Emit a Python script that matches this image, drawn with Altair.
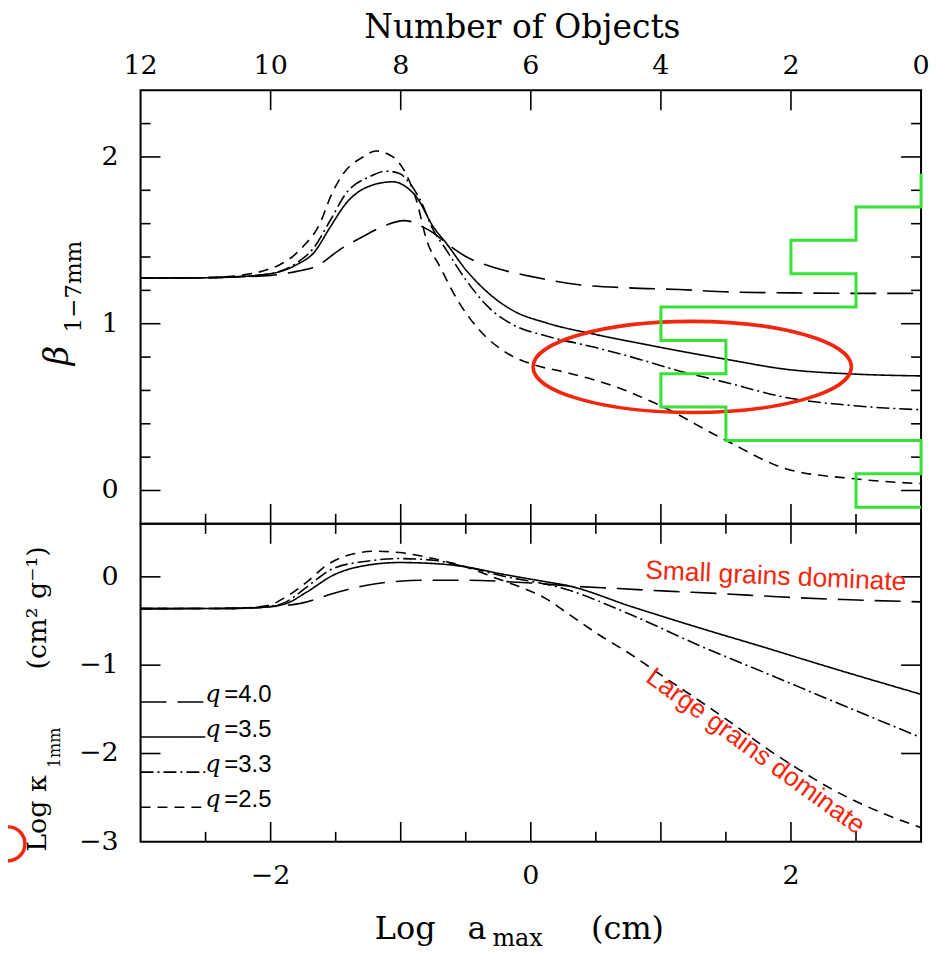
import altair as alt
import pandas as pd

# ---------------- data ----------------
Q_LABELS = ["4.0", "3.5", "3.3", "2.5"]

# top panel: beta_{1-7mm} vs log a_max
BETA_X_Q40 = [-3.0, -2.5, -2.3, -2.0, -1.8, -1.65, -1.47, -1.29, -1.11, -0.98, -0.88, -0.84, -0.75, -0.65, -0.5, -0.27, 0.0, 0.37, 0.75, 1.14, 1.55, 2.0, 2.5, 3.0]
BETA_Y_Q40 = [1.274, 1.276, 1.28, 1.29, 1.314, 1.344, 1.443, 1.523, 1.592, 1.618, 1.603, 1.585, 1.545, 1.483, 1.403, 1.334, 1.284, 1.234, 1.215, 1.205, 1.19, 1.185, 1.182, 1.182]

BETA_X_Q35 = [-3.0, -2.5, -2.3, -2.0, -1.8, -1.67, -1.54, -1.42, -1.24, -1.06, -0.96, -0.88, -0.75, -0.65, -0.5, -0.32, -0.14, 0.12, 0.5, 0.88, 1.14, 1.5, 1.96, 2.49, 3.0]
BETA_Y_Q35 = [1.274, 1.276, 1.28, 1.30, 1.354, 1.424, 1.582, 1.722, 1.825, 1.851, 1.821, 1.761, 1.582, 1.483, 1.324, 1.18, 1.08, 1.005, 0.935, 0.876, 0.837, 0.787, 0.727, 0.698, 0.687]

BETA_X_Q33 = [-3.0, -2.5, -2.3, -2.0, -1.8, -1.67, -1.54, -1.42, -1.24, -1.11, -1.01, -0.93, -0.85, -0.75, -0.65, -0.5, -0.32, -0.14, 0.12, 0.5, 0.88, 1.14, 1.5, 1.96, 2.49, 3.0]
BETA_Y_Q33 = [1.274, 1.276, 1.28, 1.30, 1.364, 1.453, 1.622, 1.782, 1.881, 1.915, 1.901, 1.841, 1.742, 1.563, 1.443, 1.264, 1.095, 0.995, 0.926, 0.857, 0.777, 0.717, 0.648, 0.558, 0.508, 0.484]

BETA_X_Q25 = [-3.0, -2.5, -2.3, -1.93, -1.75, -1.62, -1.54, -1.44, -1.29, -1.19, -1.06, -0.96, -0.88, -0.80, -0.70, -0.55, -0.40, -0.19, 0.01, 0.27, 0.63, 0.98, 1.5, 1.96, 2.49, 3.0]
BETA_Y_Q25 = [1.274, 1.276, 1.284, 1.354, 1.463, 1.603, 1.761, 1.901, 2.0, 2.036, 2.0, 1.90, 1.742, 1.50, 1.344, 1.125, 0.966, 0.827, 0.757, 0.708, 0.628, 0.515, 0.30, 0.131, 0.07, 0.041]

# bottom panel: log kappa_1mm vs log a_max
KAP_X_Q40 = [-3.0, -2.3, -2.03, -1.77, -1.52, -1.26, -1.01, -0.75, -0.5, -0.24, 0.0, 0.33, 0.67, 1.05, 1.45, 1.9, 2.4, 3.0]
KAP_Y_Q40 = [-0.36, -0.357, -0.34, -0.30, -0.189, -0.095, -0.05, -0.038, -0.038, -0.05, -0.07, -0.106, -0.132, -0.162, -0.189, -0.226, -0.257, -0.283]

KAP_X_Q35 = [-3.0, -2.3, -2.03, -1.88, -1.72, -1.52, -1.26, -1.01, -0.75, -0.5, -0.24, 0.12, 0.27, 0.78, 1.29, 1.8, 2.31, 3.0]
KAP_Y_Q35 = [-0.36, -0.357, -0.34, -0.302, -0.17, 0.018, 0.131, 0.162, 0.151, 0.113, 0.037, -0.057, -0.095, -0.34, -0.575, -0.80, -1.03, -1.33]

KAP_X_Q33 = [-3.0, -2.3, -2.03, -1.88, -1.72, -1.52, -1.26, -1.01, -0.75, -0.5, -0.24, 0.27, 0.78, 1.29, 1.8, 2.31, 3.0]
KAP_Y_Q33 = [-0.36, -0.357, -0.34, -0.283, -0.113, 0.094, 0.177, 0.207, 0.188, 0.113, 0.018, -0.14, -0.435, -0.774, -1.085, -1.40, -1.82]

KAP_X_Q25 = [-3.0, -2.3, -2.03, -1.88, -1.72, -1.57, -1.42, -1.19, -1.01, -0.75, -0.5, -0.24, -0.09, 0.12, 0.27, 0.53, 0.78, 1.04, 1.29, 1.55, 1.8, 2.06, 2.31, 2.57, 3.0]
KAP_Y_Q25 = [-0.36, -0.357, -0.328, -0.226, -0.057, 0.131, 0.238, 0.29, 0.275, 0.207, 0.113, -0.03, -0.11, -0.25, -0.40, -0.661, -0.888, -1.151, -1.397, -1.661, -1.93, -2.18, -2.40, -2.59, -2.84]

# histogram of observed beta (number of objects per 0.2-wide bin)
HIST_BIN_LO = [1.7, 1.5, 1.3, 1.1, 0.9, 0.7, 0.5, 0.3, 0.1, -0.1]
HIST_BIN_WIDTH = 0.2
HIST_COUNTS = [0, 1, 2, 1, 4, 3, 4, 3, 0, 1]

# axis tick values / labels
X_MAJOR = [-2, -1, 0, 1, 2]
X_MINOR = [-2.5, -1.5, -0.5, 0.5, 1.5, 2.5]
X_LABELS = [-2, 0, 2]
N_TICKS = [2, 4, 6, 8, 10]
N_LABELS = [0, 2, 4, 6, 8, 10, 12]
BETA_MAJOR = [0, 1, 2]
BETA_MINOR = [0.2, 0.4, 0.6, 0.8, 1.2, 1.4, 1.6, 1.8, 2.2]
KAP_MAJOR = [0, -1, -2]
KAP_LABELS = [0, -1, -2, -3]

# annotations
ELLIPSE_CENTER = {"x": [1.241], "y": [0.741]}
ANNOT_TEXT = ["Small grains dominate", "Large grains dominate"]
ANNOT_X = [1.881, 1.728]
ANNOT_Y = [-0.087, -1.978]

# ---------------- styling ----------------
W = 783
H_TOP = 435
H_BOT = 319
SERIF = "DejaVu Serif"
SANS = "Liberation Sans"
RED = "#f3260e"
GREEN = "#36e236"
DASHES = [[26, 11], [1, 0], [13, 4, 2, 4], [10, 7]]
LABEL_SIZE = 27

x_scale = alt.Scale(domain=[-3, 3], nice=False, zero=False)
beta_scale = alt.Scale(domain=[-0.2, 2.4], nice=False, zero=False)
kap_scale = alt.Scale(domain=[-3, 0.6], nice=False, zero=False)
n_scale = alt.Scale(domain=[0, 12], reverse=True, nice=False, zero=False)
dash_scale = alt.Scale(domain=Q_LABELS, range=DASHES)

DUMMY = pd.DataFrame({"d": [0]})


def curves_df(xs_list, ys_list):
    rows = []
    for q, xs, ys in zip(Q_LABELS, xs_list, ys_list):
        for x, y in zip(xs, ys):
            rows.append({"q": q, "x": x, "y": y})
    return pd.DataFrame(rows)


def curves_layer(df, yscale):
    return alt.Chart(df).mark_line(color="black", strokeWidth=1.6, interpolate="monotone").encode(
        x=alt.X("x:Q", scale=x_scale, axis=None),
        y=alt.Y("y:Q", scale=yscale, axis=None),
        strokeDash=alt.StrokeDash("q:N", scale=dash_scale, legend=None),
        detail="q:N",
    )


def xticks(values, scale, y0, y1):
    return alt.Chart(pd.DataFrame({"v": values})).mark_rule(color="black", strokeWidth=1.6).encode(
        x=alt.X("v:Q", scale=scale, axis=None), y=alt.value(y0), y2=alt.value(y1))


def yticks(values, scale, x0, x1):
    return alt.Chart(pd.DataFrame({"v": values})).mark_rule(color="black", strokeWidth=1.6).encode(
        y=alt.Y("v:Q", scale=scale, axis=None), x=alt.value(x0), x2=alt.value(x1))


def xlabels(values, scale, ybase):
    return alt.Chart(pd.DataFrame({"v": values})).mark_text(
        font=SERIF, fontSize=LABEL_SIZE, color="black", align="center", baseline="alphabetic").encode(
        x=alt.X("v:Q", scale=scale, axis=None), y=alt.value(ybase), text=alt.Text("v:Q", format="d"))


def ylabels(values, scale, xright):
    return alt.Chart(pd.DataFrame({"v": values})).mark_text(
        font=SERIF, fontSize=LABEL_SIZE, color="black", align="right", baseline="middle").encode(
        y=alt.Y("v:Q", scale=scale, axis=None), x=alt.value(xright), text=alt.Text("v:Q", format="d"))


def text(t, x, y, size, font=SERIF, angle=0, align="left", baseline="alphabetic", style="normal", color="black"):
    return alt.Chart(DUMMY).mark_text(text=t, font=font, fontSize=size, angle=angle, align=align,
                                      baseline=baseline, fontStyle=style, color=color).encode(
        x=alt.value(x), y=alt.value(y))


MAJ, MIN = 20, 10

# ---------------- top panel ----------------
top_curves = curves_layer(curves_df([BETA_X_Q40, BETA_X_Q35, BETA_X_Q33, BETA_X_Q25],
                                    [BETA_Y_Q40, BETA_Y_Q35, BETA_Y_Q33, BETA_Y_Q25]), beta_scale)

ellipse = alt.Chart(pd.DataFrame(ELLIPSE_CENTER)).mark_point(
    shape="M-1,0A1,0.286,0,1,0,1,0A1,0.286,0,1,0,-1,0Z", size=102000,
    stroke=RED, strokeWidth=3.6, filled=False, opacity=1).encode(
    x=alt.X("x:Q", scale=x_scale, axis=None), y=alt.Y("y:Q", scale=beta_scale, axis=None))

top_logA = alt.layer(
    top_curves,
    ellipse,
    xticks(X_MAJOR, x_scale, H_TOP, H_TOP - MAJ),
    xticks(X_MINOR, x_scale, H_TOP, H_TOP - MIN),
    yticks(BETA_MAJOR, beta_scale, 0, MAJ),
    yticks(BETA_MINOR, beta_scale, 0, MIN),
    yticks(BETA_MAJOR, beta_scale, W, W - MAJ),
    yticks(BETA_MINOR, beta_scale, W, W - MIN),
    ylabels(BETA_MAJOR, beta_scale, -22),
    text("β", -73, 276, 34, angle=270, style="italic"),
    text("1−7mm", -60, 243, 23, angle=270),
    text("Number of Objects", 383, -52, 33, align="center"),
)

# histogram outline (step path)
hist_rows = []
i = 0
for lo, c in zip(HIST_BIN_LO, HIST_COUNTS):
    hist_rows.append({"i": i, "n": c, "b": lo + HIST_BIN_WIDTH}); i += 1
    hist_rows.append({"i": i, "n": c, "b": lo}); i += 1
hist_rows.append({"i": i, "n": 0, "b": HIST_BIN_LO[-1]})
hist_df = pd.DataFrame(hist_rows)

hist = alt.Chart(hist_df).mark_line(color=GREEN, strokeWidth=3, interpolate="linear").encode(
    x=alt.X("n:Q", scale=n_scale, axis=None),
    y=alt.Y("b:Q", scale=beta_scale, axis=None),
    order="i:Q",
)
top_N = alt.layer(hist, xticks(N_TICKS, n_scale, 0, MAJ), xlabels(N_LABELS, n_scale, -16))

top = alt.layer(top_logA, top_N).resolve_scale(x="independent").properties(width=W, height=H_TOP)

# ---------------- bottom panel ----------------
bot_curves = curves_layer(curves_df([KAP_X_Q40, KAP_X_Q35, KAP_X_Q33, KAP_X_Q25],
                                    [KAP_Y_Q40, KAP_Y_Q35, KAP_Y_Q33, KAP_Y_Q25]), kap_scale)

annot_df = pd.DataFrame({"t": ANNOT_TEXT, "x": ANNOT_X, "y": ANNOT_Y})
small_txt = alt.Chart(annot_df.iloc[[0]]).mark_text(
    font=SANS, fontSize=26.5, color=RED, angle=2.6, align="center", baseline="alphabetic").encode(
    x=alt.X("x:Q", scale=x_scale, axis=None), y=alt.Y("y:Q", scale=kap_scale, axis=None), text="t:N")
large_txt = alt.Chart(annot_df.iloc[[1]]).mark_text(
    font=SANS, fontSize=26.5, color=RED, angle=36, align="center", baseline="middle").encode(
    x=alt.X("x:Q", scale=x_scale, axis=None), y=alt.Y("y:Q", scale=kap_scale, axis=None), text="t:N")

legend_layers = []
for k, (q, dash) in enumerate(zip(Q_LABELS, DASHES)):
    yy = 178.7 + 35.2 * k
    legend_layers.append(
        alt.Chart(DUMMY).mark_rule(color="black", strokeWidth=1.6, strokeDash=dash).encode(
            x=alt.value(0), x2=alt.value(65), y=alt.value(yy)))
    legend_layers.append(text("q", 65, yy, 24, style="italic"))
    legend_layers.append(text("=" + q, 84, yy, 24, font=SANS))

half_circle = alt.Chart(DUMMY).mark_point(
    shape="M0,-1A1,1,0,0,1,0,1", size=1156, stroke=RED, strokeWidth=3.5, filled=False, opacity=1).encode(
    x=alt.value(-133), y=alt.value(321))

bottom = alt.layer(
    bot_curves,
    xticks(X_MAJOR, x_scale, 0, MAJ),
    xticks(X_MINOR, x_scale, 0, MIN),
    xticks(X_MAJOR, x_scale, H_BOT, H_BOT - MAJ),
    xticks(X_MINOR, x_scale, H_BOT, H_BOT - MIN),
    yticks(KAP_MAJOR, kap_scale, 0, MAJ),
    yticks(KAP_MAJOR, kap_scale, W, W - MAJ),
    ylabels(KAP_LABELS, kap_scale, -22),
    xlabels(X_LABELS, x_scale, 361),
    small_txt,
    large_txt,
    *legend_layers,
    half_circle,
    text("Log", 235, 416, 32),
    text("a", 328, 416, 32),
    text("max", 353, 424, 24),
    text("(cm)", 452, 416, 32),
    text("Log κ", -95, 329, 27, angle=270),
    text("1mm", -81, 245, 16, angle=270),
    text("(cm² g⁻¹)", -95, 146, 27, angle=270),
).properties(width=W, height=H_BOT)

chart = alt.vconcat(top, bottom, spacing=0, bounds="flush").resolve_scale(
    x="independent", y="independent"
).properties(
    padding={"left": 0, "top": 10, "right": 5, "bottom": 0},
    background="white",
).configure_view(stroke="black", strokeWidth=2)

chart.save("out.html", embed_options={"renderer": "svg", "actions": False})
